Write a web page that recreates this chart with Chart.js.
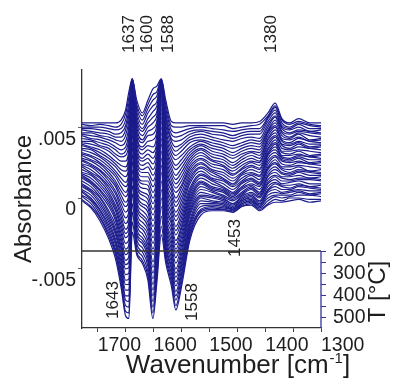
<!DOCTYPE html>
<html>
<head>
<meta charset="utf-8">
<script src="https://cdn.jsdelivr.net/npm/chart.js@4"></script>
<style>
  body { margin: 0; background: #fff; }
</style>
</head>
<body>
<canvas id="irChart" width="398" height="379"></canvas>
<script>
// wavenumber grid shared by every spectrum (cm-1)
const wavenumbers = [1728, 1712, 1696, 1680, 1668, 1658, 1650, 1644, 1638, 1630, 1620, 1610, 1601, 1594, 1586, 1578, 1568,
  1560, 1550, 1535, 1515, 1495, 1475, 1458, 1442, 1425, 1410, 1395, 1382, 1370, 1356, 1340, 1320, 1300];

// one spectrum per temperature step (°C)
const temps = [200, 207.5, 215, 222.5, 230, 237.5, 245, 252.5, 260, 267.5, 275, 282.5, 290, 297.5, 305, 312.5, 320, 327.5,
  335, 342.5, 350, 357.5, 365, 372.5, 380, 387.5, 395, 402.5, 410, 417.5, 425, 432.5, 440, 447.5, 455, 462.5, 470, 477.5,
  485, 492.5, 500];

// absorbance in units of 0.001, stacked as plotted (top spectrum first)
const spectra = [
  [5.3, 5.3, 5.3, 5.3, 5.3, 5.5, 6.2, 7.5, 8.4, 6.9, 6.0, 6.9, 7.7, 7.9, 8.4, 6.9, 5.4, 5.3, 5.3, 5.3, 5.3, 5.3, 5.3, 5.2, 5.3, 5.3, 5.4, 6.0, 6.7, 5.6, 5.3, 5.6, 5.3, 5.3],
  [5.2, 5.1, 5.2, 5.1, 5.0, 5.2, 5.9, 7.1, 8.4, 6.6, 5.8, 6.6, 7.3, 7.5, 8.4, 6.6, 5.1, 5.0, 5.0, 5.1, 5.1, 5.1, 5.1, 4.9, 5.0, 5.1, 5.2, 5.8, 6.5, 5.5, 5.2, 5.4, 5.2, 5.1],
  [5.0, 5.0, 5.0, 4.9, 4.8, 4.9, 5.5, 6.7, 8.4, 6.4, 5.5, 6.3, 6.9, 7.2, 8.3, 6.3, 4.8, 4.6, 4.7, 4.9, 5.0, 4.9, 4.8, 4.7, 4.8, 4.9, 4.9, 5.7, 6.4, 5.3, 5.0, 5.3, 5.1, 5.0],
  [4.9, 4.9, 4.8, 4.7, 4.5, 4.6, 5.1, 6.3, 8.4, 6.1, 5.2, 6.0, 6.5, 6.8, 8.3, 6.0, 4.5, 4.3, 4.4, 4.7, 4.8, 4.7, 4.6, 4.4, 4.6, 4.7, 4.7, 5.6, 6.2, 5.1, 4.9, 5.2, 4.9, 4.9],
  [4.8, 4.7, 4.6, 4.5, 4.3, 4.3, 4.8, 5.9, 8.3, 5.8, 4.9, 5.6, 6.1, 6.5, 8.3, 5.8, 4.2, 4.0, 4.1, 4.5, 4.7, 4.5, 4.4, 4.2, 4.4, 4.5, 4.5, 5.4, 6.0, 5.0, 4.8, 5.0, 4.7, 4.8],
  [4.6, 4.6, 4.4, 4.3, 4.1, 4.0, 4.4, 5.5, 8.3, 5.5, 4.7, 5.3, 5.7, 6.1, 8.3, 5.5, 4.0, 3.6, 3.8, 4.3, 4.5, 4.3, 4.1, 4.0, 4.2, 4.3, 4.2, 5.2, 5.8, 4.9, 4.6, 4.8, 4.7, 4.6],
  [4.5, 4.4, 4.3, 4.1, 3.9, 3.7, 4.0, 5.1, 8.3, 5.3, 4.4, 5.0, 5.3, 5.8, 8.2, 5.2, 3.7, 3.3, 3.6, 4.1, 4.3, 4.1, 3.9, 3.7, 3.9, 4.1, 4.0, 5.0, 5.7, 4.7, 4.5, 4.7, 4.6, 4.5],
  [4.4, 4.2, 4.1, 3.9, 3.6, 3.4, 3.6, 4.7, 8.2, 5.0, 4.1, 4.7, 4.9, 5.4, 8.2, 4.9, 3.4, 3.0, 3.3, 3.9, 4.1, 3.9, 3.7, 3.5, 3.7, 3.9, 3.8, 4.8, 5.5, 4.6, 4.3, 4.6, 4.4, 4.3],
  [4.2, 4.1, 3.9, 3.7, 3.4, 3.1, 3.3, 4.3, 8.2, 4.7, 3.9, 4.4, 4.5, 5.1, 8.1, 4.6, 3.1, 2.7, 3.0, 3.6, 4.0, 3.7, 3.5, 3.2, 3.5, 3.7, 3.6, 4.7, 5.3, 4.4, 4.2, 4.5, 4.1, 4.2],
  [4.0, 4.0, 3.7, 3.5, 3.1, 2.9, 3.0, 3.9, 8.1, 4.4, 3.6, 4.0, 4.1, 4.7, 8.1, 4.3, 2.8, 2.3, 2.7, 3.4, 3.8, 3.5, 3.3, 3.0, 3.3, 3.5, 3.4, 4.6, 5.1, 4.2, 4.1, 4.3, 4.0, 4.1],
  [3.9, 3.8, 3.6, 3.3, 2.9, 2.6, 2.6, 3.5, 8.1, 4.2, 3.4, 3.7, 3.6, 4.4, 8.0, 4.0, 2.5, 2.0, 2.4, 3.2, 3.7, 3.3, 3.1, 2.8, 3.1, 3.3, 3.2, 4.4, 5.0, 4.1, 3.9, 4.2, 4.0, 3.9],
  [3.8, 3.6, 3.4, 3.0, 2.6, 2.3, 2.2, 3.1, 8.0, 3.9, 3.1, 3.4, 3.2, 4.0, 8.0, 3.8, 2.2, 1.6, 2.1, 3.0, 3.5, 3.1, 2.9, 2.5, 2.9, 3.2, 3.0, 4.2, 4.8, 4.0, 3.8, 4.0, 3.8, 3.8],
  [3.7, 3.5, 3.2, 2.8, 2.4, 2.0, 1.9, 2.7, 8.0, 3.6, 2.8, 3.1, 2.8, 3.7, 7.9, 3.5, 1.9, 1.3, 1.8, 2.8, 3.4, 2.9, 2.7, 2.3, 2.7, 3.0, 2.8, 4.1, 4.6, 3.8, 3.7, 3.9, 3.6, 3.7],
  [3.5, 3.4, 3.0, 2.6, 2.2, 1.7, 1.5, 2.3, 7.9, 3.3, 2.6, 2.8, 2.4, 3.4, 7.8, 3.2, 1.6, 1.0, 1.5, 2.6, 3.2, 2.7, 2.5, 2.1, 2.5, 2.8, 2.6, 3.9, 4.4, 3.7, 3.5, 3.8, 3.5, 3.6],
  [3.4, 3.2, 2.9, 2.4, 1.9, 1.4, 1.1, 1.9, 7.8, 3.1, 2.3, 2.5, 2.0, 3.0, 7.7, 2.9, 1.3, 0.7, 1.2, 2.4, 3.0, 2.6, 2.3, 1.9, 2.3, 2.6, 2.5, 3.7, 4.3, 3.5, 3.4, 3.6, 3.5, 3.4],
  [3.2, 3.0, 2.7, 2.2, 1.7, 1.1, 0.8, 1.5, 7.7, 2.8, 2.0, 2.2, 1.6, 2.6, 7.6, 2.6, 1.0, 0.4, 0.9, 2.2, 2.8, 2.4, 2.2, 1.7, 2.1, 2.5, 2.3, 3.5, 4.1, 3.3, 3.3, 3.4, 3.3, 3.2],
  [3.1, 2.9, 2.5, 2.0, 1.5, 0.8, 0.4, 1.1, 7.6, 2.5, 1.8, 1.8, 1.2, 2.3, 7.5, 2.3, 0.8, 0.0, 0.7, 2.0, 2.7, 2.2, 2.0, 1.6, 2.0, 2.3, 2.1, 3.4, 3.9, 3.2, 3.1, 3.3, 3.0, 3.1],
  [3.0, 2.7, 2.4, 1.8, 1.2, 0.5, 0.1, 0.7, 7.5, 2.2, 1.5, 1.5, 0.8, 2.0, 7.4, 2.0, 0.5, -0.3, 0.4, 1.8, 2.5, 2.0, 1.8, 1.4, 1.8, 2.2, 2.0, 3.2, 3.8, 3.0, 3.0, 3.1, 2.9, 3.0],
  [2.8, 2.6, 2.2, 1.6, 1.0, 0.2, -0.3, 0.3, 7.3, 2.0, 1.2, 1.2, 0.4, 1.6, 7.2, 1.7, 0.2, -0.6, 0.1, 1.6, 2.4, 1.9, 1.6, 1.2, 1.7, 2.0, 1.8, 3.1, 3.6, 2.9, 2.8, 3.0, 2.9, 2.8],
  [2.7, 2.4, 2.0, 1.4, 0.8, -0.1, -0.6, -0.1, 7.2, 1.8, 1.0, 0.9, 0.0, 1.3, 7.0, 1.4, -0.1, -1.0, -0.2, 1.4, 2.2, 1.8, 1.4, 1.0, 1.6, 1.8, 1.6, 3.0, 3.4, 2.8, 2.7, 2.9, 2.7, 2.7],
  [2.6, 2.3, 1.9, 1.2, 0.5, -0.4, -1.0, -0.5, 7.0, 1.5, 0.7, 0.6, -0.4, 1.0, 6.8, 1.2, -0.4, -1.3, -0.5, 1.2, 2.1, 1.6, 1.3, 0.9, 1.4, 1.7, 1.5, 2.8, 3.2, 2.7, 2.6, 2.8, 2.5, 2.6],
  [2.4, 2.2, 1.7, 1.0, 0.3, -0.7, -1.4, -0.9, 6.8, 1.2, 0.4, 0.2, -0.8, 0.6, 6.6, 0.9, -0.7, -1.6, -0.8, 1.0, 1.9, 1.4, 1.2, 0.8, 1.2, 1.6, 1.3, 2.6, 3.0, 2.6, 2.5, 2.6, 2.4, 2.5],
  [2.3, 2.0, 1.5, 0.8, 0.0, -1.0, -1.8, -1.3, 6.5, 0.9, 0.2, -0.1, -1.2, 0.3, 6.3, 0.6, -1.0, -2.0, -1.1, 0.7, 1.7, 1.3, 1.0, 0.6, 1.1, 1.4, 1.1, 2.4, 2.9, 2.4, 2.3, 2.5, 2.4, 2.3],
  [2.2, 1.8, 1.4, 0.6, -0.2, -1.3, -2.2, -1.7, 6.2, 0.6, -0.1, -0.4, -1.6, 0.0, 6.0, 0.3, -1.3, -2.3, -1.4, 0.5, 1.6, 1.2, 0.8, 0.4, 1.0, 1.3, 1.0, 2.2, 2.7, 2.2, 2.2, 2.3, 2.2, 2.1],
  [2.0, 1.7, 1.2, 0.4, -0.5, -1.6, -2.5, -2.1, 6.0, 0.4, -0.4, -0.7, -2.0, -0.4, 5.7, 0.0, -1.6, -2.6, -1.7, 0.3, 1.4, 1.0, 0.7, 0.3, 0.8, 1.2, 0.9, 2.1, 2.5, 2.1, 2.0, 2.2, 1.9, 2.0],
  [1.8, 1.6, 1.0, 0.2, -0.7, -1.9, -2.8, -2.5, 5.6, 0.1, -0.6, -1.0, -2.4, -0.8, 5.4, -0.3, -1.8, -3.0, -2.0, 0.1, 1.2, 0.8, 0.6, 0.2, 0.7, 1.0, 0.8, 2.0, 2.4, 2.0, 1.8, 2.0, 1.9, 1.8],
  [1.7, 1.4, 0.8, 0.0, -0.9, -2.2, -3.2, -2.9, 5.3, -0.2, -0.9, -1.4, -2.8, -1.1, 5.0, -0.6, -2.1, -3.3, -2.2, -0.1, 1.1, 0.7, 0.5, 0.1, 0.6, 0.9, 0.6, 1.8, 2.2, 1.8, 1.7, 1.9, 1.8, 1.7],
  [1.6, 1.2, 0.6, -0.2, -1.2, -2.5, -3.6, -3.3, 4.9, -0.4, -1.2, -1.7, -3.2, -1.4, 4.6, -0.9, -2.4, -3.6, -2.5, -0.3, 1.0, 0.6, 0.4, 0.0, 0.4, 0.8, 0.4, 1.6, 2.0, 1.7, 1.6, 1.8, 1.6, 1.6],
  [1.5, 1.1, 0.5, -0.4, -1.4, -2.8, -4.0, -3.7, 4.5, -0.7, -1.4, -2.0, -3.6, -1.8, 4.2, -1.2, -2.7, -3.9, -2.8, -0.5, 0.8, 0.5, 0.2, -0.1, 0.3, 0.7, 0.3, 1.5, 1.8, 1.5, 1.5, 1.6, 1.4, 1.5],
  [1.4, 1.0, 0.3, -0.6, -1.6, -3.1, -4.4, -4.1, 4.0, -1.0, -1.7, -2.3, -4.0, -2.2, 3.8, -1.4, -3.0, -4.2, -3.1, -0.7, 0.6, 0.4, 0.1, -0.2, 0.2, 0.6, 0.2, 1.3, 1.6, 1.4, 1.3, 1.4, 1.4, 1.3],
  [1.2, 0.8, 0.1, -0.9, -1.9, -3.4, -4.7, -4.5, 3.6, -1.3, -2.0, -2.6, -4.5, -2.5, 3.3, -1.7, -3.3, -4.6, -3.4, -0.9, 0.4, 0.2, 0.0, -0.4, 0.1, 0.4, 0.1, 1.1, 1.5, 1.2, 1.2, 1.3, 1.3, 1.2],
  [1.0, 0.6, 0.0, -1.1, -2.2, -3.6, -5.0, -4.9, 3.1, -1.6, -2.2, -3.0, -4.9, -2.8, 2.8, -2.0, -3.6, -5.0, -3.7, -1.1, 0.2, 0.1, -0.1, -0.4, 0.0, 0.3, 0.0, 1.0, 1.3, 1.0, 1.1, 1.2, 1.0, 1.0],
  [0.9, 0.5, -0.2, -1.3, -2.4, -3.9, -5.4, -5.3, 2.6, -1.8, -2.5, -3.3, -5.3, -3.2, 2.3, -2.3, -3.9, -5.3, -4.0, -1.3, 0.1, 0.0, -0.2, -0.5, -0.1, 0.2, -0.2, 0.8, 1.1, 0.9, 0.9, 1.0, 0.8, 0.9],
  [0.8, 0.4, -0.4, -1.5, -2.6, -4.2, -5.8, -5.7, 2.0, -2.1, -2.8, -3.6, -5.7, -3.6, 1.8, -2.6, -4.2, -5.6, -4.3, -1.6, 0.0, -0.2, -0.3, -0.6, -0.2, 0.1, -0.3, 0.6, 1.0, 0.8, 0.7, 0.9, 0.8, 0.7],
  [0.6, 0.2, -0.6, -1.7, -2.9, -4.5, -6.1, -6.1, 1.5, -2.4, -3.0, -3.9, -6.1, -3.9, 1.2, -2.9, -4.5, -5.9, -4.6, -1.8, -0.2, -0.3, -0.4, -0.7, -0.2, 0.0, -0.4, 0.5, 0.8, 0.6, 0.6, 0.8, 0.7, 0.6],
  [0.5, 0.0, -0.8, -1.9, -3.1, -4.8, -6.5, -6.5, 0.9, -2.6, -3.2, -4.2, -6.5, -4.2, 0.6, -3.2, -4.8, -6.2, -4.8, -2.0, -0.4, -0.4, -0.5, -0.8, -0.3, -0.1, -0.5, 0.4, 0.6, 0.4, 0.5, 0.6, 0.5, 0.5],
  [0.4, -0.1, -0.9, -2.1, -3.3, -5.1, -6.9, -6.9, 0.3, -2.9, -3.5, -4.5, -6.9, -4.6, 0.0, -3.5, -5.0, -6.6, -5.1, -2.2, -0.6, -0.5, -0.6, -0.8, -0.4, -0.2, -0.6, 0.2, 0.4, 0.3, 0.4, 0.5, 0.3, 0.4],
  [0.2, -0.2, -1.1, -2.3, -3.6, -5.4, -7.2, -7.3, -0.4, -3.2, -3.8, -4.8, -7.3, -5.0, -0.6, -3.8, -5.3, -6.9, -5.4, -2.4, -0.8, -0.6, -0.7, -0.8, -0.4, -0.2, -0.6, 0.0, 0.2, 0.2, 0.2, 0.4, 0.2, 0.3],
  [0.1, -0.4, -1.3, -2.5, -3.8, -5.7, -7.6, -7.7, -1.0, -3.5, -4.1, -5.2, -7.7, -5.3, -1.3, -4.0, -5.6, -7.2, -5.7, -2.6, -0.9, -0.7, -0.8, -0.9, -0.5, -0.3, -0.7, -0.2, 0.1, 0.0, 0.1, 0.2, 0.2, 0.1],
  [-0.1, -0.6, -1.4, -2.7, -4.0, -6.0, -8.0, -8.1, -1.7, -3.8, -4.4, -5.5, -8.1, -5.6, -2.0, -4.3, -5.9, -7.6, -6.0, -2.8, -1.0, -0.8, -0.8, -1.0, -0.6, -0.4, -0.8, -0.4, -0.1, -0.2, 0.0, 0.0, -0.1, -0.1],
  [-0.2, -0.7, -1.6, -2.9, -4.3, -6.3, -8.3, -8.5, -2.4, -4.0, -4.6, -5.8, -8.5, -6.0, -2.6, -4.6, -6.2, -7.9, -6.3, -3.0, -1.2, -0.9, -0.9, -1.0, -0.6, -0.5, -0.9, -0.5, -0.3, -0.3, -0.2, -0.1, -0.3, -0.2]
];

const xTicks = [1700, 1650, 1600, 1550, 1500, 1450, 1400, 1350, 1300];
const yTicks = [-5, 0, 5];
const yTickLabels = ['-.005', '0', '.005'];
const tTicks = [200, 250, 300, 350, 400, 450, 500];

const peakLabels = [1637, 1600, 1588, 1380];
const dipLabels = [1643, 1558, 1453];

const lineBlue = '#1c1c8c';
const axisBlue = '#3434a6';
const textColor = '#1e1e1e';
const fontName = '"Liberation Sans", Arial, sans-serif';

Chart.defaults.font.family = fontName;
Chart.defaults.color = textColor;

function upText(ctx, text, cx, cy) {
  ctx.save();
  ctx.translate(cx, cy);
  ctx.rotate(-Math.PI / 2);
  ctx.textAlign = 'center';
  ctx.textBaseline = 'middle';
  ctx.fillText(text, 0, 0);
  ctx.restore();
}

const extras = {
  id: 'extras',
  afterDatasetsDraw(chart) {
    const { ctx, chartArea: a, scales: { t } } = chart;
    const yBox = t.getPixelForValue(tTicks[0]);
    ctx.save();
    ctx.lineWidth = 1.3;
    ctx.strokeStyle = '#333';
    ctx.beginPath();
    ctx.moveTo(a.left, yBox);
    ctx.lineTo(a.right, yBox);
    ctx.stroke();
    ctx.strokeStyle = axisBlue;
    ctx.beginPath();
    ctx.moveTo(a.right, yBox);
    ctx.lineTo(a.right, a.bottom);
    ctx.stroke();
    ctx.restore();
  },
  afterDraw(chart) {
    const { ctx, chartArea: a, scales: { x, t } } = chart;
    const yBox = t.getPixelForValue(tTicks[0]);
    ctx.save();
    ctx.fillStyle = textColor;

    // band labels
    ctx.font = '17px ' + fontName;
    const topNudge = [-4, -6, 8, -5];
    peakLabels.forEach((w, i) => upText(ctx, String(w), x.getPixelForValue(w) + topNudge[i], a.top - 36));
    const dipNudge = [-16, 15, 0];
    const dipY = [a.bottom - 28, a.bottom - 26, yBox - 13];
    dipLabels.forEach((w, i) => upText(ctx, String(w), x.getPixelForValue(w) + dipNudge[i], dipY[i]));

    // x title with superscript
    const base = 'Wavenumber [cm', sup = '-1', end = ']';
    ctx.font = '26px ' + fontName;
    const w1 = ctx.measureText(base).width;
    const w3 = ctx.measureText(end).width;
    ctx.font = '15px ' + fontName;
    const w2 = ctx.measureText(sup).width;
    const x0 = (a.left + a.right) / 2 + 36 - (w1 + w2 + w3) / 2;
    const yb = a.bottom + 45;
    ctx.textAlign = 'left';
    ctx.textBaseline = 'alphabetic';
    ctx.font = '26px ' + fontName;
    ctx.fillText(base, x0, yb);
    ctx.font = '15px ' + fontName;
    ctx.fillText(sup, x0 + w1 + 1, yb - 10);
    ctx.font = '26px ' + fontName;
    ctx.fillText(end, x0 + w1 + w2 + 1, yb);

    // temperature axis title
    ctx.font = '24px ' + fontName;
    upText(ctx, 'T [°C]', a.right + 57, (yBox + a.bottom) / 2 + 2);
    ctx.restore();
  }
};

const datasets = spectra.map((row, i) => ({
  label: temps[i] + ' °C',
  data: row.map((v, k) => ({ x: wavenumbers[k], y: v })),
  borderColor: lineBlue,
  borderWidth: 1.2,
  pointRadius: 0,
  cubicInterpolationMode: 'monotone',
  xAxisID: 'x',
  yAxisID: 'y'
}));

new Chart(document.getElementById('irChart'), {
  type: 'line',
  data: { datasets },
  options: {
    responsive: false,
    devicePixelRatio: 1,
    animation: false,
    layout: { padding: { top: 70 } },
    plugins: { legend: { display: false }, tooltip: { enabled: false } },
    scales: {
      x: {
        type: 'linear',
        reverse: true,
        min: 1300,
        max: 1728,
        afterBuildTicks: s => { s.ticks = xTicks.map(v => ({ value: v })); },
        afterFit: s => { s.height = 51; },
        ticks: {
          align: 'start',
          autoSkip: false,
          maxRotation: 0,
          minRotation: 0,
          padding: 2,
          font: { size: 19.5 },
          callback: v => (v % 100 === 0 ? String(v) : '')
        },
        grid: { drawOnChartArea: false, color: axisBlue, tickLength: 4 },
        border: { color: '#333', width: 1.3 }
      },
      y: {
        type: 'linear',
        position: 'left',
        min: -9.17,
        max: 9.03,
        afterBuildTicks: s => { s.ticks = yTicks.map(v => ({ value: v })); },
        afterFit: s => { s.width = 82; },
        ticks: {
          padding: 2,
          labelOffset: 12,
          font: { size: 19.5 },
          callback: v => yTickLabels[yTicks.indexOf(v)]
        },
        grid: { drawOnChartArea: false, color: '#666', tickLength: 4 },
        border: { color: '#333', width: 1.3 },
        title: { display: true, text: 'Absorbance', font: { size: 24 }, padding: { top: 10, bottom: 0 } }
      },
      t: {
        type: 'linear',
        axis: 'y',
        position: 'right',
        reverse: true,
        min: -616,
        max: 547,
        afterBuildTicks: s => { s.ticks = tTicks.map(v => ({ value: v })); },
        afterFit: s => { s.width = 77; },
        ticks: {
          padding: 7,
          font: { size: 19.5 },
          callback: v => (v % 100 === 0 ? String(v) : '')
        },
        grid: { drawOnChartArea: false, color: axisBlue, tickLength: 5 },
        border: { display: false }
      }
    }
  },
  plugins: [extras]
});
</script>
</body>
</html>
